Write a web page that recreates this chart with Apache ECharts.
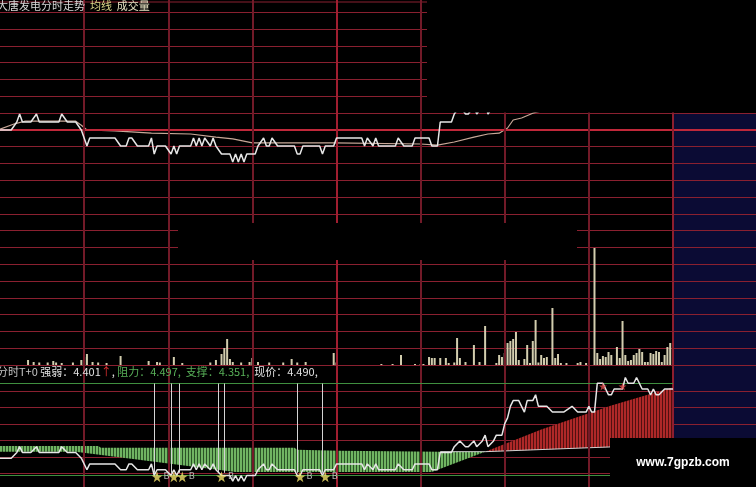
<!DOCTYPE html>
<html><head><meta charset="utf-8">
<script src="https://cdn.jsdelivr.net/npm/echarts/dist/echarts.min.js"></script>
<style>html,body{margin:0;padding:0;background:#000}#c{width:756px;height:487px}</style>
</head><body><div id="c"></div>
<script>
// ---------- data (x = minute of the trading day, 0..240) ----------
const titleParts = ['大唐发电分时走势', '均线', '成交量'];
const infoParts = { name: '分时T+0', strength: '强弱：4.401', arrow: '↑', resist: '阻力：4.497,', support: '支撑：4.351,', price: '现价：4.490,' };
const timeGridMinutes = [30, 60, 90, 120, 150, 180, 210, 240];

const priceLine = [[0,4.37],[4,4.37],[6,4.38],[7,4.39],[8,4.38],[11,4.38],[13,4.39],[14,4.38],[21,4.38],[22,4.39],[24,4.38],[27,4.38],[29,4.37],[31,4.35],[32,4.36],[41,4.36],[43,4.35],[45,4.35],[46,4.36],[47,4.36],[49,4.35],[53,4.35],[54,4.36],[55,4.34],[56,4.35],[59,4.35],[61,4.34],[62,4.35],[63,4.34],[64,4.35],[68,4.35],[69,4.36],[70,4.35],[71,4.36],[72,4.35],[73,4.36],[75,4.35],[76,4.36],[77,4.35],[79,4.34],[82,4.34],[83,4.33],[84,4.34],[85,4.33],[86,4.34],[87,4.33],[88,4.34],[91,4.34],[92,4.35],[94,4.36],[95,4.35],[96,4.35],[97,4.36],[99,4.35],[105,4.35],[106,4.34],[107,4.34],[108,4.35],[114,4.35],[115,4.34],[116,4.35],[119,4.35],[120,4.36],[129,4.36],[130,4.35],[131,4.36],[133,4.35],[134,4.36],[135,4.35],[141,4.35],[142,4.36],[144,4.35],[147,4.35],[148,4.36],[153,4.36],[154,4.35],[156,4.35],[157,4.38],[161,4.38],[162,4.39],[164,4.40],[166,4.39],[167,4.39],[169,4.40],[170,4.39],[172,4.40],[173,4.41],[174,4.39],[176,4.40],[177,4.41],[179,4.41],[180,4.43],[181,4.44],[182,4.46],[183,4.47],[185,4.47],[186,4.46],[187,4.45],[188,4.47],[190,4.47],[191,4.48],[192,4.46],[195,4.46],[197,4.45],[201,4.45],[204,4.46],[206,4.45],[209,4.45],[210,4.46],[211,4.45],[212,4.45],[213,4.50],[215,4.50],[217,4.48],[218,4.48],[219,4.49],[222,4.49],[223,4.51],[224,4.50],[226,4.50],[227,4.51],[228,4.50],[229,4.49],[231,4.49],[232,4.48],[233,4.49],[234,4.48],[235,4.48],[237,4.49],[240,4.49]];

const avgLine = [[0,4.371],[5,4.3775],[9,4.381],[27,4.381],[29,4.376],[31,4.370],[41,4.369],[54,4.366],[68,4.365],[77,4.361],[83,4.359],[90,4.354],[119,4.354],[150,4.3525],[156,4.351],[162,4.355],[169,4.361],[174,4.365],[178,4.366],[181,4.3725],[183,4.3825],[186,4.385],[190,4.391],[200,4.400],[214,4.415],[240,4.430]];

const volumes = [[10,500],[12,300],[14,250],[17,250],[19,400],[20,250],[22,200],[26,250],[29,500],[30,800],[31,1100],[33,300],[35,250],[38,200],[43,900],[53,400],[56,300],[57,250],[62,800],[65,200],[75,250],[77,500],[79,1100],[80,1700],[81,2600],[82,600],[83,300],[86,250],[89,300],[90,700],[92,300],[96,250],[101,250],[104,600],[106,250],[109,300],[119,1200],[120,250],[136,100],[140,100],[143,1000],[148,100],[150,100],[151,100],[153,800],[154,700],[155,700],[157,700],[159,700],[160,200],[162,250],[163,2700],[164,700],[166,300],[169,2000],[171,300],[173,3900],[177,200],[178,1000],[179,800],[180,1200],[181,2200],[182,2400],[183,2600],[184,3300],[185,500],[187,600],[188,2000],[189,200],[190,2400],[191,4500],[192,250],[193,1000],[194,700],[195,800],[197,5700],[198,700],[199,1100],[200,200],[202,200],[206,200],[207,300],[209,200],[212,11700],[213,1200],[214,600],[215,900],[216,800],[217,1300],[218,1000],[220,1800],[221,700],[222,4400],[223,1000],[224,400],[225,500],[226,1000],[227,1200],[228,1600],[229,1300],[230,300],[231,300],[232,1200],[233,1100],[234,1400],[235,1300],[236,300],[237,1000],[238,1800],[239,2200],[240,2600]];

// T+0 histogram: base line and indicator line (same scale as lower price pane)
const histBase = [[0,4.3913],[35,4.3913],[36,4.388],[105,4.388],[106,4.3846],[121,4.383],[157,4.3813],[173,4.3813],[218,4.3896],[240,4.3905]];
const histValue = [[0,4.381],[27,4.381],[84,4.346],[154,4.346],[173,4.3813],[193,4.4196],[218,4.4613],[240,4.4929]];
const crossMinute = 173;
const baseShownFrom = 157;

const bandLevels = [4.4995, 4.3396];        // green resistance / support lines
const buyLines = [55, 61, 64, 78, 80, 106, 115];
const buyLineSpan = [4.4996, 4.3446];
const buyStars = [56, 62, 65, 79, 107, 116];
const buyStarLabels = ['B', '', 'B', 'B', 'B', 'B'];
const starLevel = 4.3379;
const sellStars = [215, 222];
const sellLevel = 4.4946;

// ---------- rendering ----------
function stripe(c1, c2) {
  const cv = document.createElement('canvas');
  cv.width = 3; cv.height = 4;
  const g = cv.getContext('2d');
  g.fillStyle = c2; g.fillRect(0, 0, 3, 4);
  g.fillStyle = c1; g.fillRect(0, 0, 2, 4);
  return { image: cv, repeat: 'repeat' };
}
const greenPat = stripe('#70b462', '#2a5226');
const redPat = stripe('#ae2828', '#501010');

const GRID_RED = '#8a2030';
const hiddenAxis = (g, min, max) => ({ gridIndex: g, type: 'value', min: min, max: max, show: false });
const STAR = 'path://M50,0 L61,35 L98,35 L68,57 L79,91 L50,70 L21,91 L32,57 L2,35 L39,35 Z';
const plainLine = { show: false };
const vStyle = m => m === 120 ? { color: '#a01e30', width: 2, type: 'solid' }
                 : m === 240 ? { color: '#8e1e2e', width: 2, type: 'solid' }
                 : { color: '#721a28', width: 2, type: 'solid' };

const chart = echarts.init(document.getElementById('c'), null, { renderer: 'canvas' });
chart.setOption({
  backgroundColor: '#000',
  animation: false,
  grid: [
    { left: 0, right: 0, top: 12.3, height: 352.8 },
    { left: 0, right: 0, top: 391, height: 82.5 },
    { left: -4, width: 677, top: 0, height: 487 },
    { left: -4, width: 677, top: 10, height: 256 },
    { left: -4, width: 677, top: 248, height: 117 },
    { left: -4, width: 677, top: 371.75, height: 120 }
  ],
  xAxis: [
    hiddenAxis(0, 0, 1),
    hiddenAxis(1, 0, 1),
    hiddenAxis(2, 0, 240),
    hiddenAxis(3, 0, 240),
    hiddenAxis(4, 0, 240),
    hiddenAxis(5, 0, 240)
  ],
  yAxis: [
    { gridIndex: 0, type: 'value', min: 0, max: 21, interval: 1, axisLine: plainLine, axisTick: plainLine, axisLabel: plainLine,
      splitLine: { show: true, lineStyle: { color: GRID_RED, width: 1 } } },
    { gridIndex: 1, type: 'value', min: 0, max: 5, interval: 1, axisLine: plainLine, axisTick: plainLine, axisLabel: plainLine,
      splitLine: { show: true, lineStyle: { color: GRID_RED, width: 1 } } },
    hiddenAxis(2, 0, 1),
    hiddenAxis(3, 4.20, 4.52),
    hiddenAxis(4, 0, 11700),
    hiddenAxis(5, 4.32, 4.52)
  ],
  series: [
    { type: 'line', xAxisIndex: 0, yAxisIndex: 0, data: [[0.5, 14]], symbol: 'none', lineStyle: { opacity: 0 }, silent: true,
      markLine: { silent: true, symbol: ['none', 'none'], label: { show: false }, animation: false,
        lineStyle: { color: '#c0283a', width: 2, type: 'solid' }, data: [{ yAxis: 14 }] } },
    { type: 'line', xAxisIndex: 2, yAxisIndex: 2, data: [[120, 0.5]], symbol: 'none', lineStyle: { opacity: 0 }, silent: true,
      markLine: { silent: true, symbol: ['none', 'none'], label: { show: false }, animation: false,
        data: timeGridMinutes.map(m => ({ xAxis: m, lineStyle: vStyle(m) })) } },
    { type: 'line', name: 'avg', xAxisIndex: 3, yAxisIndex: 3, data: avgLine, symbol: 'none', z: 4,
      lineStyle: { color: '#c8a898', width: 1.2 } },
    { type: 'line', name: 'price', xAxisIndex: 3, yAxisIndex: 3, data: priceLine, symbol: 'none', z: 5,
      lineStyle: { color: '#e6e6e6', width: 1.5 } },
    { type: 'bar', name: 'volume', xAxisIndex: 4, yAxisIndex: 4, data: volumes, barWidth: 2, clip: false,
      itemStyle: { color: '#d2cdae' } },
    { type: 'custom', xAxisIndex: 5, yAxisIndex: 5, data: [[0, 4.38], [1, 4.38]], z: 3, silent: true,
      renderItem: function (params, api) {
        const i = params.dataIndex;
        const lo = i === 0 ? 0 : crossMinute, hi = i === 0 ? crossMinute : 240;
        const top = histBase.filter(d => d[0] >= lo && d[0] <= hi);
        const bot = histValue.filter(d => d[0] >= lo && d[0] <= hi).reverse();
        const pts = top.concat(bot).map(d => api.coord(d));
        return { type: 'polygon', shape: { points: pts }, style: { fill: i === 0 ? greenPat : redPat } };
      } },
    { type: 'line', xAxisIndex: 5, yAxisIndex: 5, data: histBase.filter(d => d[0] >= baseShownFrom), symbol: 'none', z: 4,
      lineStyle: { color: '#d0d0d0', width: 1 } },
    { type: 'line', name: 'price2', xAxisIndex: 5, yAxisIndex: 5, data: priceLine, symbol: 'none', z: 6, clip: false,
      lineStyle: { color: '#e6e6e6', width: 1.5 },
      markLine: { silent: true, symbol: ['none', 'none'], label: { show: false }, animation: false,
        data: bandLevels.map(v => ({ yAxis: v, lineStyle: { color: '#3f8f3f', width: 1, type: 'solid' } }))
          .concat(buyLines.map(m => [
            { coord: [m, buyLineSpan[0]], lineStyle: { color: '#d4d4d4', width: 1, type: 'solid' } },
            { coord: [m, buyLineSpan[1]] }])) } },
    { type: 'scatter', xAxisIndex: 5, yAxisIndex: 5, z: 8, symbol: STAR, symbolSize: 11,
      data: buyStars.map(m => [m, starLevel]),
      itemStyle: { color: '#f4e26a' },
      label: { show: true, position: 'right', distance: 1, color: '#d8d8d8', fontSize: 9, fontFamily: 'DejaVu Sans',
        formatter: p => buyStarLabels[p.dataIndex] } },
    { type: 'scatter', xAxisIndex: 5, yAxisIndex: 5, z: 8, symbol: STAR, symbolSize: 8,
      data: sellStars.map(m => [m, sellLevel]), itemStyle: { color: '#e04a4a' } }
  ],
  graphic: [
    { type: 'rect', z: -10, silent: true, shape: { x: 673, y: 113, width: 83, height: 374 }, style: { fill: '#0b0b34' } },
    { type: 'line', z: 1, silent: true, shape: { x1: 0, y1: 2, x2: 427, y2: 2 }, style: { stroke: GRID_RED, lineWidth: 1 } },
    { type: 'rect', z: 50, silent: true, shape: { x: 427, y: 0, width: 329, height: 112.5 }, style: { fill: '#000' } },
    { type: 'rect', z: 50, silent: true, shape: { x: 178, y: 223, width: 399, height: 37 }, style: { fill: '#000' } },
    { type: 'rect', z: 50, silent: true, shape: { x: 610, y: 438, width: 146, height: 49 }, style: { fill: '#000' } },
    { type: 'text', z: 60, silent: true, x: 683, y: 463,
      style: { text: 'www.7gpzb.com', fill: '#ffffff', font: 'bold 12px "Liberation Sans", Arial', align: 'center', verticalAlign: 'middle' } },
    { type: 'text', z: 60, silent: true, x: -3, y: 6,
      style: { text: '{w|' + titleParts[0] + '}  {y|' + titleParts[1] + '}  {c|' + titleParts[2] + '}',
        verticalAlign: 'middle', font: '11px "Noto Sans CJK SC"',
        rich: { w: { fill: '#d8d8d8', fontSize: 11, fontFamily: 'Noto Sans CJK SC' },
                y: { fill: '#dcd88a', fontSize: 11, fontFamily: 'Noto Sans CJK SC' },
                c: { fill: '#e8e4c4', fontSize: 11, fontFamily: 'Noto Sans CJK SC' } } } },
    { type: 'text', z: 60, silent: true, x: -3, y: 372,
      style: { text: '{g|' + infoParts.name + '} {w|' + infoParts.strength + '}{r|' + infoParts.arrow + '}{w|, }{gr|' + infoParts.resist + '  ' + infoParts.support + '}  {w|' + infoParts.price + '}',
        verticalAlign: 'middle', font: '11px "Noto Sans CJK SC"',
        rich: { g: { fill: '#c4c4c4', fontSize: 11, fontFamily: 'Noto Sans CJK SC' },
                w: { fill: '#e0e0e0', fontSize: 11, fontFamily: 'Noto Sans CJK SC' },
                r: { fill: '#e03030', fontSize: 11, fontFamily: 'Noto Sans CJK SC' },
                gr: { fill: '#58b058', fontSize: 11, fontFamily: 'Noto Sans CJK SC' } } } }
  ]
});
</script></body></html>
